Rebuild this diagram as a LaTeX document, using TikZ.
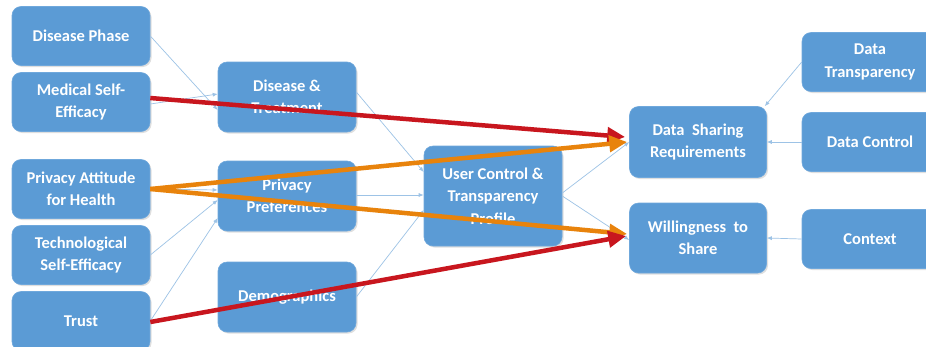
\documentclass[tikz,border=0pt]{standalone}
\usepackage{fontspec}
\setmainfont{Carlito}
\usetikzlibrary{arrows.meta,shadows}
\definecolor{boxfill}{HTML}{5B9BD5}
\definecolor{boxline}{HTML}{6FA8DC}
\definecolor{thin}{HTML}{9DC3E6}
\definecolor{redarr}{HTML}{C8161E}
\definecolor{orgarr}{HTML}{E8830C}
\tikzset{
  box/.style={draw=boxline, line width=0.6pt, fill=boxfill, rounded corners=9pt,
    minimum width=138pt, minimum height=59pt, inner sep=2pt, align=center,
    text=white, font=\bfseries\fontsize{16.5}{22.5}\selectfont,
    drop shadow={shadow xshift=1.5pt, shadow yshift=-1.5pt, opacity=0.25}},
  thinarr/.style={draw=thin, line width=0.7pt, -{Latex[length=5pt,width=4pt]}},
  redthick/.style={draw=redarr, line width=4.5pt, -{Triangle[length=18pt,width=16pt]}},
  orgthick/.style={draw=orgarr, line width=4.5pt, -{Triangle[length=18pt,width=16pt]}},
}
\begin{document}
\begin{tikzpicture}[x=1pt,y=-1pt]
\useasboundingbox (0,0) rectangle (926,346);
\clip (0,0) rectangle (926,346);
\fill[white] (0,0) rectangle (926,346);
% left column
\node[box] (dp) at (81,36) {Disease Phase};
\node[box] (mse) at (81,102) {Medical Self-\\Efficacy};
\node[box] (pah) at (81,189) {Privacy Attitude\\for Health};
\node[box] (tse) at (81,255) {Technological\\Self-Efficacy};
\node[box] (trust) at (81,321) {Trust};
% middle column
\node[box, minimum height=70pt] (dt) at (287,97) {Disease \&\\Treatment};
\node[box, minimum height=70pt] (pp) at (287,196) {Privacy\\Preferences};
\node[box, minimum height=70pt] (demo) at (287,297) {Demographics};
% centre
\node[box, minimum height=100pt] (uc) at (493,196) {User Control \&\\Transparency\\Profile};
% outcomes
\node[box, minimum height=71pt, minimum width=137pt] (dsr) at (698,142) {Data\ \ Sharing\\Requirements};
\node[box, minimum height=70pt, minimum width=137pt] (wts) at (698,238) {Willingness\ \ to\\Share};
% right column
\node[box, minimum width=136pt] (dtr) at (870,62) {Data\\Transparency};
\node[box, minimum width=136pt] (dc) at (870,142) {Data Control};
\node[box, minimum width=136pt] (ctx) at (870,239) {Context};
% thin connectors
\draw[thinarr] (dp.east) -- ([yshift=-13pt]dt.west);
\draw[thinarr] ([yshift=-2pt]mse.east) -- ([yshift=3pt]dt.west);
\draw[thinarr] (pah.east) -- ([yshift=6pt]pp.west);
\draw[thinarr] (tse.east) -- ([yshift=-4pt]pp.west);
\draw[thinarr] (trust.east) -- ([yshift=-22pt]pp.west);
\draw[thinarr] ([yshift=5pt]dt.east) -- ([yshift=24pt]uc.west);
\draw[thinarr] ([yshift=1pt]pp.east) -- ([yshift=1pt]uc.west);
\draw[thinarr] (demo.east) -- ([yshift=-14pt]uc.west);
\draw[thinarr] ([yshift=3pt]uc.east) -- (dsr.west);
\draw[thinarr] ([yshift=0pt]uc.east) -- ([yshift=-2pt]wts.west);
\draw[thinarr] (dtr.west) -- ([xshift=-2pt]dsr.north east);
\draw[thinarr] (dc.west) -- (dsr.east);
\draw[thinarr] (ctx.west) -- (wts.east);
% thick connectors
\draw[redthick] ([yshift=4pt]mse.east) -- ([xshift=-4pt,yshift=5pt]dsr.west);
\draw[orgthick] (pah.east) -- ([xshift=-2pt]dsr.west);
\draw[orgthick] (pah.east) -- ([xshift=-2pt,yshift=4pt]wts.west);
\draw[redthick] ([yshift=-1pt]trust.east) -- ([xshift=-3pt,yshift=2pt]wts.west);
\end{tikzpicture}
\end{document}
